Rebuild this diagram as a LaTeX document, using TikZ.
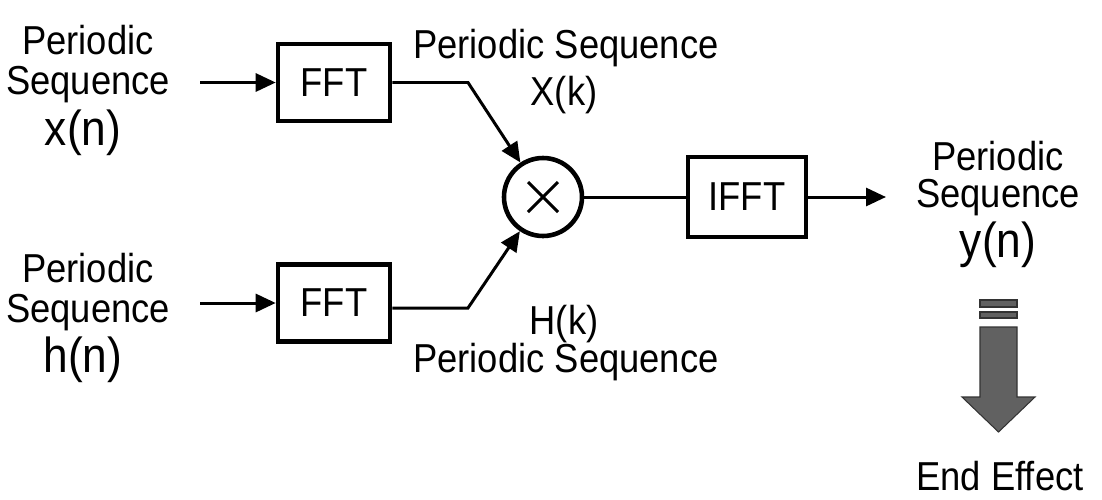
\documentclass[tikz,border=0pt]{standalone}
\usepackage{fontspec}
\setmainfont{Liberation Sans}[FakeStretch=0.9]
\usetikzlibrary{positioning,arrows.meta,calc}
\tikzset{
  sig/.style={-{Triangle[length=4mm,width=3.6mm]},line width=1.7pt},
  wire/.style={line width=1.7pt},
  blk/.style={draw,line width=2.6pt,minimum width=2.24cm,minimum height=1.54cm,
    font=\fontsize{23}{27}\selectfont,inner sep=0pt},
  mulc/.style={circle,draw,line width=2.6pt,minimum size=1.56cm,inner sep=0pt},
  txt/.style={font=\fontsize{23}{27}\selectfont,anchor=base,inner sep=0pt},
  seqn/.style={font=\fontsize{28}{32}\selectfont,anchor=base,inner sep=0pt},
  bigarr/.style={fill=black!62,draw=black!80,line width=0.6pt},
}
\begin{document}
\begin{tikzpicture}
  \useasboundingbox (0,0) rectangle (22.04,-9.98);
  % input labels
  \node[txt] (xa) at (1.76,-1.08) {Periodic};
  \node[txt] (xb) at (1.76,-1.88) {Sequence};
  \node[seqn] (xn) at (1.66,-2.9) {x(n)};
  \node[txt] (ha) at (1.76,-5.64) {Periodic};
  \node[txt] (hb) at (1.76,-6.44) {Sequence};
  \node[seqn] (hn) at (1.66,-7.44) {h(n)};
  % blocks
  \node[blk] (fftx) at (6.68,-1.65) {FFT};
  \node[blk] (ffth) at (6.68,-6.06) {FFT};
  \node[mulc] (mul) at (10.86,-3.94) {};
  \draw[line width=1.8pt] ($(mul)+(-0.3,0.3)$) -- ($(mul)+(0.3,-0.3)$)
    ($(mul)+(-0.3,-0.3)$) -- ($(mul)+(0.3,0.3)$);
  \node[blk,minimum width=2.36cm,minimum height=1.6cm] (ifft) at (14.94,-3.94) {IFFT};
  % free ends
  \coordinate (xin) at (4.0,-1.65);
  \coordinate (hin) at (4.0,-6.06);
  \coordinate (xbend) at (9.36,-1.65);
  \coordinate (hbend) at (9.36,-6.16);
  \coordinate (yout) at (17.72,-3.94);
  \draw[sig] (xin) -- (fftx);
  \draw[sig] (hin) -- (ffth);
  \draw[sig] (fftx.east) -- (xbend) -- (mul);
  \draw[sig] (ffth.east |- hbend) -- (hbend) -- (mul);
  \draw[wire] (mul) -- (ifft);
  \draw[sig] (ifft) -- (yout);
  % spectrum labels
  \node[txt] (xka) at (11.32,-1.16) {Periodic Sequence};
  \node[txt] (xkb) at (11.28,-2.1) {X(k)};
  \node[txt] (hka) at (11.28,-6.68) {H(k)};
  \node[txt] (hkb) at (11.32,-7.44) {Periodic Sequence};
  % output
  \node[txt] (ya) at (19.96,-3.4) {Periodic};
  \node[txt] (yb) at (19.96,-4.14) {Sequence};
  \node[seqn] (yn) at (19.96,-5.14) {y(n)};
  \fill[bigarr] (19.6,-6.0) rectangle (20.34,-6.14);
  \fill[bigarr] (19.6,-6.24) rectangle (20.34,-6.36);
  \fill[bigarr] (19.6,-6.54) -- (20.34,-6.54) -- (20.34,-7.94) -- (20.7,-7.94)
    -- (19.97,-8.64) -- (19.24,-7.94) -- (19.6,-7.94) -- cycle;
  \node[txt] (ee) at (20.0,-9.8) {End Effect};
\end{tikzpicture}
\end{document}
